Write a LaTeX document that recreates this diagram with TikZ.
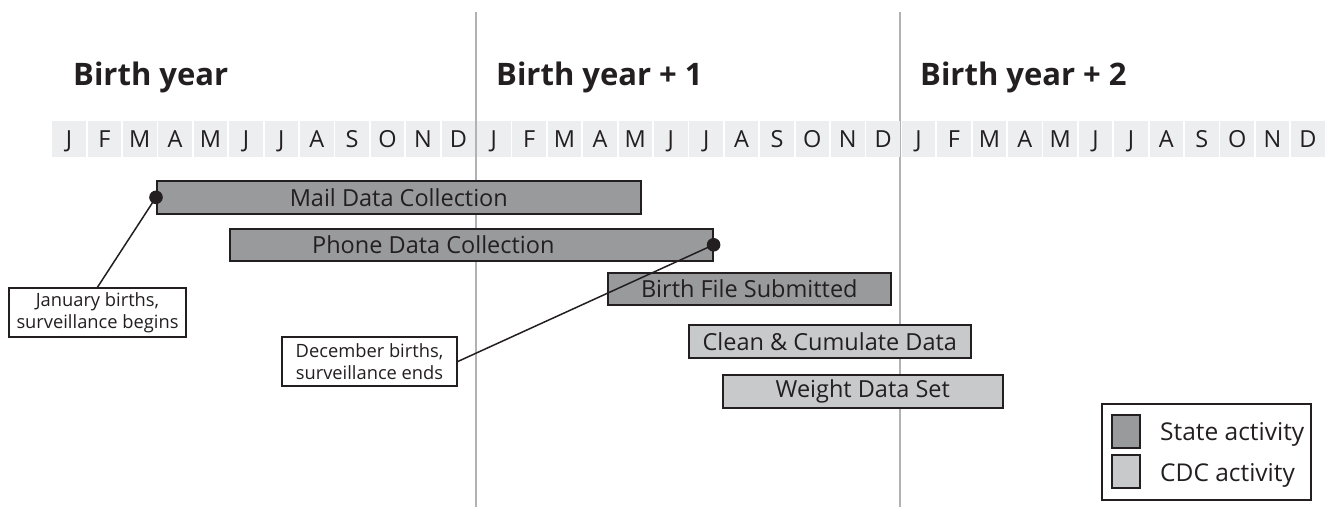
\documentclass[tikz,border=0pt]{standalone}
\usepackage{fontspec}
\setmainfont{Open Sans}
\definecolor{cellgray}{RGB}{237,238,240}
\definecolor{yearline}{RGB}{178,178,180}
\definecolor{statefill}{RGB}{153,154,156}
\definecolor{cdcfill}{RGB}{200,201,203}
\definecolor{ink}{RGB}{35,31,32}
\begin{document}
\begin{tikzpicture}[x=1pt,y=-1pt,
  yearln/.style={draw=yearline,line width=1.8pt},
  monthcell/.style={fill=cellgray,minimum width=33.5pt,minimum height=36pt,inner sep=0pt,
    text height=16.5pt,text depth=0pt,font=\fontsize{23.5}{27}\selectfont,text=ink,anchor=north west},
  heading/.style={font=\fontsize{31}{36}\bfseries\selectfont,text=ink,anchor=base west,inner sep=0pt},
  barbase/.style={draw=ink,line width=1.6pt,inner sep=0pt,anchor=north west,
    font=\fontsize{23.5}{28}\selectfont,text=ink},
  statebar/.style={barbase,fill=statefill},
  cdcbar/.style={barbase,fill=cdcfill},
  notebox/.style={draw=ink,line width=1.6pt,fill=white,align=center,inner sep=0pt,
    minimum height=49pt,font=\fontsize{18.3}{21.5}\selectfont,text=ink},
  conn/.style={draw=ink,line width=1.5pt},
  dotmark/.style={fill=ink},
  legendbox/.style={draw=ink,line width=1.6pt,inner sep=0pt,anchor=north west},
  legtext/.style={font=\fontsize{24.5}{28}\selectfont,text=ink,anchor=base west,inner sep=0pt}
]
\useasboundingbox (0,0) rectangle (1326,507);
% year separators
\draw[yearln] (476,12) -- (476,507);
\draw[yearln] (900,12) -- (900,507);
% month cells
\foreach \m [count=\i from 0] in {J,F,M,A,M,J,J,A,S,O,N,D,J,F,M,A,M,J,J,A,S,O,N,D,J,F,M,A,M,J,J,A,S,O,N,D}
  \node[monthcell] (m\i) at ({52+35.4*\i},121) {\m};
% headings
\node[heading] (h1) at (73,85) {Birth year};
\node[heading] (h2) at (496,85) {Birth year + 1};
\node[heading] (h3) at (920,85) {Birth year + 2};
% bars
\node[statebar,minimum width=484pt,minimum height=33pt] (mail) at (156,180) {Mail Data Collection};
\node[statebar,minimum width=483pt,minimum height=32pt] (phone) at (229,228) {Phone Data Collection\hspace*{76pt}};
\node[statebar,minimum width=283pt,minimum height=32pt] (birth) at (607,272) {Birth File Submitted};
\node[cdcbar,minimum width=282pt,minimum height=33pt] (clean) at (688,324) {Clean \& Cumulate Data};
\node[cdcbar,minimum width=280pt,minimum height=33pt] (weight) at (722,374) {Weight Data Set};
% notes
\node[notebox,minimum width=177pt] (jan) at (97.5,312.5) {January births,\\surveillance begins};
\node[notebox,minimum width=175pt] (dec) at (369.5,361.5) {December births,\\surveillance ends};
\draw[conn] (jan.north) -- (mail.west);
\draw[conn] (dec.east) -- (phone.east);
\fill[dotmark] (mail.west) circle (6.8pt);
\fill[dotmark] (phone.east) circle (6.8pt);
% legend
\node[legendbox,minimum width=209pt,minimum height=96pt] (legend) at (1101,403) {};
\node[statebar,minimum width=28pt,minimum height=33pt] (sw1) at (1111,414) {};
\node[cdcbar,minimum width=28pt,minimum height=33pt] (sw2) at (1111,454) {};
\node[legtext] (t1) at (1160,440) {State activity};
\node[legtext] (t2) at (1160,481) {CDC activity};
\end{tikzpicture}
\end{document}
